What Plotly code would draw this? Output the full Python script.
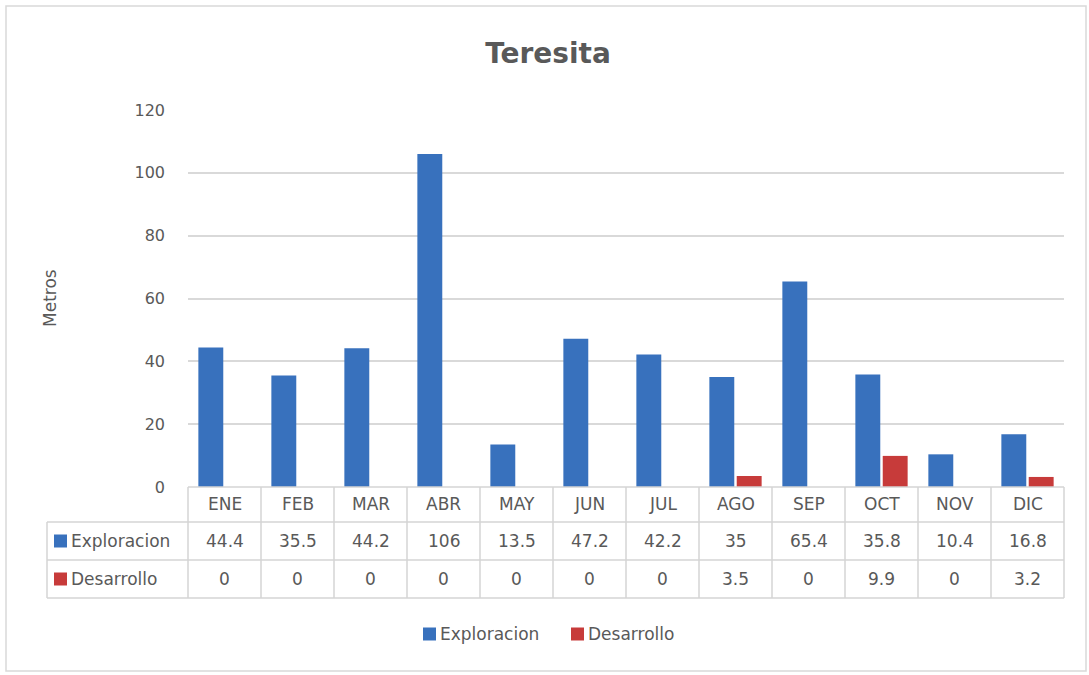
import plotly.graph_objects as go

# Monthly drilled metres, Teresita
meses = ["ENE", "FEB", "MAR", "ABR", "MAY", "JUN", "JUL", "AGO", "SEP", "OCT", "NOV", "DIC"]
exploracion = [44.4, 35.5, 44.2, 106, 13.5, 47.2, 42.2, 35, 65.4, 35.8, 10.4, 16.8]
desarrollo = [0, 0, 0, 0, 0, 0, 0, 3.5, 0, 9.9, 0, 3.2]
series_names = ["Exploracion", "Desarrollo"]

W, H = 1089, 675
ML, MR, MT, MB = 188, 25, 110, 188
PW = W - ML - MR
PH = H - MT - MB

FONT = "DejaVu Sans"
TXT = "#595959"
GRID = "#d9d9d9"
BLUE = "#3871bd"
RED = "#c73b3a"

n = len(meses)


def px_x(px):
    return (px - ML) / PW


def px_y(py):
    return (H - MB - py) / PH


def cat_x(i):
    # paper x of category boundary i - 0.5 on the [-0.5, n-0.5] axis
    return i / n


fig = go.Figure()
fig.add_trace(go.Bar(name=series_names[0], x=meses, y=exploracion,
                     marker=dict(color=BLUE, line=dict(width=0))))
fig.add_trace(go.Bar(name=series_names[1], x=meses, y=desarrollo,
                     marker=dict(color=RED, line=dict(width=0))))

shapes = []
annotations = []

# outer chart frame
shapes.append(dict(type="rect", xref="paper", yref="paper",
                   x0=px_x(6), x1=px_x(1086), y0=px_y(671), y1=px_y(6),
                   line=dict(color=GRID, width=1.5), layer="below"))

# data table grid
row_y = [487, 522, 560, 598]
left_px = 47
line_style = dict(color="#d4d4d4", width=1.5)
shapes.append(dict(type="line", xref="paper", yref="paper", x0=0, x1=1,
                   y0=px_y(row_y[0]), y1=px_y(row_y[0]), line=line_style))
for ry in row_y[1:]:
    shapes.append(dict(type="line", xref="paper", yref="paper", x0=px_x(left_px), x1=1,
                       y0=px_y(ry), y1=px_y(ry), line=line_style))
for i in range(n + 1):
    shapes.append(dict(type="line", xref="paper", yref="paper", x0=cat_x(i), x1=cat_x(i),
                       y0=px_y(row_y[0]), y1=px_y(row_y[-1]), line=line_style))
shapes.append(dict(type="line", xref="paper", yref="paper", x0=px_x(left_px), x1=px_x(left_px),
                   y0=px_y(row_y[1]), y1=px_y(row_y[-1]), line=line_style))

# table text
cell_font = dict(family=FONT, size=17, color=TXT)
for i, m in enumerate(meses):
    xc = (i + 0.5) / n
    annotations.append(dict(x=xc, y=px_y((row_y[0] + row_y[1]) / 2), xref="paper", yref="paper",
                            text=m, showarrow=False, font=cell_font,
                            xanchor="center", yanchor="middle"))
    for r, vals in enumerate([exploracion, desarrollo]):
        yc = px_y((row_y[r + 1] + row_y[r + 2]) / 2)
        annotations.append(dict(x=xc, y=yc, xref="paper", yref="paper",
                                text=f"{vals[i]:g}", showarrow=False, font=cell_font,
                                xanchor="center", yanchor="middle"))


def key(x_sq, y_c, col, name):
    # small coloured square followed by the series name
    shapes.append(dict(type="rect", xref="paper", yref="paper",
                       x0=px_x(x_sq), x1=px_x(x_sq + 13), y0=px_y(y_c + 6.5), y1=px_y(y_c - 6.5),
                       fillcolor=col, line=dict(width=0)))
    annotations.append(dict(x=px_x(x_sq + 15), y=px_y(y_c), xref="paper", yref="paper",
                            text=name, showarrow=False, xanchor="left", yanchor="middle",
                            font=cell_font))


# series keys in the table's first column
for r, (name, col) in enumerate(zip(series_names, [BLUE, RED])):
    key(54, (row_y[r + 1] + row_y[r + 2]) / 2, col, name)

# legend below the table
key(423, 634, BLUE, series_names[0])
key(571, 634, RED, series_names[1])

# axis title
annotations.append(dict(x=px_x(50), y=px_y(298), xref="paper", yref="paper", text="Metros",
                        textangle=-90, showarrow=False, xanchor="center", yanchor="middle",
                        font=dict(family=FONT, size=17, color=TXT)))

fig.update_layout(
    width=W, height=H,
    margin=dict(l=ML, r=MR, t=MT, b=MB),
    paper_bgcolor="white", plot_bgcolor="white",
    title=dict(text="<b>Teresita</b>", x=548 / W, xanchor="center",
               y=1 - 53 / H, yanchor="middle",
               font=dict(family=FONT, size=28, color=TXT)),
    barmode="group", bargap=0.25, bargroupgap=0.09,
    xaxis=dict(range=[-0.5, n - 0.5], showticklabels=False, ticks="", showgrid=False,
               zeroline=False, showline=False),
    yaxis=dict(range=[0, 120], dtick=20, showgrid=True, gridcolor=GRID, gridwidth=1.5,
               zeroline=False, showline=False, ticks="", ticklabelstandoff=22,
               tickfont=dict(family=FONT, size=16, color=TXT)),
    showlegend=False,
    shapes=shapes,
    annotations=annotations,
)

fig.write_html("out.html")
